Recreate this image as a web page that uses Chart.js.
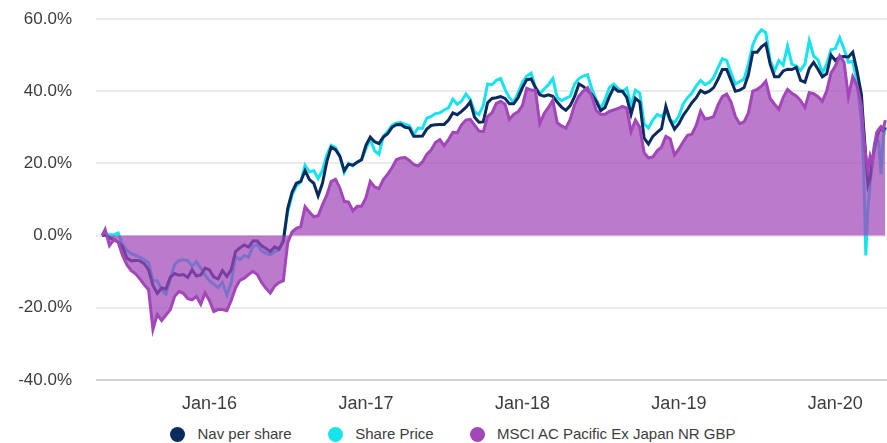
<!DOCTYPE html>
<html>
<head>
<meta charset="utf-8">
<title>Cumulative performance</title>
<script src="https://cdn.jsdelivr.net/npm/chart.js@4.4.0/dist/chart.umd.min.js"></script>
<style>
  html, body { margin: 0; padding: 0; background: #ffffff; }
  #wrap { position: relative; width: 887px; height: 443px; overflow: hidden; }
  #chartBox { position: absolute; left: 0; top: 0; width: 887px; height: 418px; }
  #legend {
    position: absolute; left: 170px; top: 425px; height: 18px;
    display: flex; align-items: center; white-space: nowrap;
    font-family: Arial, 'Liberation Sans', sans-serif; font-size: 15px; color: #3d3d3d;
  }
  #legend .item { display: flex; align-items: center; margin-right: 36px; line-height: 18px; }
  #legend .dot { width: 15px; height: 15px; border-radius: 50%; margin-right: 12.5px; }
</style>
</head>
<body>
<div id="wrap">
  <div id="chartBox"><canvas id="perfChart"></canvas></div>
  <div id="legend"></div>
</div>
<script>
// Observation dates (roughly every 10 days, denser around the March 2020 sell-off)
const dates = [
  '2015-04-24',
  '2015-05-01', '2015-05-11', '2015-05-21', '2015-06-01', '2015-06-11', '2015-06-21',
  '2015-07-01', '2015-07-11', '2015-07-21', '2015-08-01', '2015-08-11', '2015-08-21',
  '2015-09-01', '2015-09-11', '2015-09-21', '2015-10-01', '2015-10-11', '2015-10-21',
  '2015-11-01', '2015-11-11', '2015-11-21', '2015-12-01', '2015-12-11', '2015-12-21',
  '2016-01-01', '2016-01-11', '2016-01-21', '2016-02-01', '2016-02-11', '2016-02-21',
  '2016-03-01', '2016-03-11', '2016-03-21', '2016-04-01', '2016-04-11', '2016-04-21',
  '2016-05-01', '2016-05-11', '2016-05-21', '2016-06-01', '2016-06-11', '2016-06-21',
  '2016-07-01', '2016-07-11', '2016-07-21', '2016-08-01', '2016-08-11', '2016-08-21',
  '2016-09-01', '2016-09-11', '2016-09-21', '2016-10-01', '2016-10-11', '2016-10-21',
  '2016-11-01', '2016-11-11', '2016-11-21', '2016-12-01', '2016-12-11', '2016-12-21',
  '2017-01-01', '2017-01-11', '2017-01-21', '2017-02-01', '2017-02-11', '2017-02-21',
  '2017-03-01', '2017-03-11', '2017-03-21', '2017-04-01', '2017-04-11', '2017-04-21',
  '2017-05-01', '2017-05-11', '2017-05-21', '2017-06-01', '2017-06-11', '2017-06-21',
  '2017-07-01', '2017-07-11', '2017-07-21', '2017-08-01', '2017-08-11', '2017-08-21',
  '2017-09-01', '2017-09-11', '2017-09-21', '2017-10-01', '2017-10-11', '2017-10-21',
  '2017-11-01', '2017-11-11', '2017-11-21', '2017-12-01', '2017-12-11', '2017-12-21',
  '2018-01-01', '2018-01-11', '2018-01-21', '2018-02-01', '2018-02-11', '2018-02-21',
  '2018-03-01', '2018-03-11', '2018-03-21', '2018-04-01', '2018-04-11', '2018-04-21',
  '2018-05-01', '2018-05-11', '2018-05-21', '2018-06-01', '2018-06-11', '2018-06-21',
  '2018-07-01', '2018-07-11', '2018-07-21', '2018-08-01', '2018-08-11', '2018-08-21',
  '2018-09-01', '2018-09-11', '2018-09-21', '2018-10-01', '2018-10-11', '2018-10-21',
  '2018-11-01', '2018-11-11', '2018-11-21', '2018-12-01', '2018-12-11', '2018-12-21',
  '2019-01-01', '2019-01-11', '2019-01-21', '2019-02-01', '2019-02-11', '2019-02-21',
  '2019-03-01', '2019-03-11', '2019-03-21', '2019-04-01', '2019-04-11', '2019-04-21',
  '2019-05-01', '2019-05-11', '2019-05-21', '2019-06-01', '2019-06-11', '2019-06-21',
  '2019-07-01', '2019-07-11', '2019-07-21', '2019-08-01', '2019-08-11', '2019-08-21',
  '2019-09-01', '2019-09-11', '2019-09-21', '2019-10-01', '2019-10-11', '2019-10-21',
  '2019-11-01', '2019-11-11', '2019-11-21', '2019-12-01', '2019-12-11', '2019-12-21',
  '2020-01-01', '2020-01-11', '2020-01-21', '2020-02-01', '2020-02-11', '2020-02-21',
  '2020-03-01', '2020-03-06', '2020-03-11', '2020-03-16', '2020-03-21', '2020-03-26',
  '2020-04-01', '2020-04-06', '2020-04-11', '2020-04-16', '2020-04-21', '2020-04-26'
];

// Cumulative return, %
const navPerShare = [
  0,
  0.2, -0.6, -1.0, -1.8, -3.0, -6.2,
  -7.0, -6.8, -7.0, -7.8, -9.5, -13.8,
  -16.0, -14.5, -14.8, -11.5, -10.5, -11.0,
  -10.8, -11.6, -9.5, -11.2, -10.9, -9.0,
  -9.5, -11.5, -12.0, -9.7, -11.3, -9.5,
  -4.4, -3.4, -2.6, -3.2, -1.5, -1.5,
  -2.8, -3.6, -4.4, -3.1, -3.7, -1.6,
  7.5, 12.0, 14.5, 15.0, 18.0, 15.5,
  14.5, 11.0, 14.5, 20.5, 24.5, 23.8,
  22.0, 18.0, 19.8, 19.5, 20.3, 21.0,
  25.0, 27.3, 26.0, 25.5, 27.3, 28.2,
  30.0, 30.7, 30.8, 30.0, 29.8, 27.5,
  27.5, 27.6, 29.5, 30.5, 30.7, 30.8,
  30.8, 32.0, 34.0, 33.5, 34.4, 35.5,
  37.0, 32.8, 31.4, 31.5, 36.8, 38.0,
  38.2, 38.5, 38.0, 36.5, 36.5, 38.2,
  41.0, 43.2, 43.4, 41.0, 39.0, 38.6,
  39.0, 38.6, 37.0, 35.6, 34.7, 36.0,
  38.5, 42.0, 41.3, 40.2, 39.0, 37.2,
  34.6, 35.5, 38.5, 41.0, 40.0, 40.0,
  38.3, 33.6, 38.0, 37.0, 27.0, 25.4,
  27.5, 28.6, 29.6, 35.8, 32.0, 29.5,
  31.0, 33.3, 35.0, 36.8, 38.2, 40.2,
  39.5, 40.0, 41.0, 43.3, 46.0, 46.0,
  43.0, 40.0, 40.3, 41.0, 44.6, 50.8,
  50.8, 52.3, 53.2, 47.5, 44.0, 44.0,
  45.6, 46.1, 46.0, 46.6, 43.0, 42.5,
  46.3, 48.0, 46.1, 44.0, 44.8, 50.0,
  48.5, 49.5, 49.6, 49.5, 50.8, 45.5,
  39.0, 30.0, 22.0, 14.0, 16.0, 21.0,
  24.0, 27.0, 29.0, 29.5, 29.0, 30.0
];

const sharePrice = [
  0,
  0.5, 0.3, 0.2, 0.7, -2.5, -4.0,
  -5.0, -5.5, -6.0, -6.7, -7.5, -12.5,
  -12.5, -15.0, -16.2, -12.0, -8.0, -6.9,
  -6.7, -6.9, -8.5, -7.2, -9.0, -11.0,
  -12.5, -13.5, -14.4, -13.0, -16.5, -13.0,
  -5.8, -6.7, -5.5, -6.0, -3.0, -2.5,
  -4.2, -4.9, -5.3, -4.4, -4.0, -1.0,
  6.5, 11.2, 13.8, 14.8, 19.5, 17.6,
  18.0, 15.8, 18.0, 22.3, 25.0, 24.4,
  22.0, 17.5, 20.0, 19.3, 20.4, 21.1,
  24.0, 26.7, 23.5, 22.5, 27.5, 28.8,
  30.5, 31.2, 31.3, 30.8, 30.5, 28.0,
  29.8, 29.7, 32.5, 33.0, 33.8, 34.0,
  34.8, 35.4, 37.8, 36.4, 37.2, 39.2,
  37.8, 34.3, 33.5, 36.0, 42.0, 41.8,
  43.0, 43.5, 40.5, 38.2, 37.0, 39.5,
  42.5, 44.2, 45.0, 41.0, 39.3, 40.6,
  41.8, 43.5, 38.3, 37.4, 38.0, 38.6,
  42.0, 43.5, 44.2, 44.6, 40.5, 37.6,
  35.2, 37.6, 41.0, 42.0, 40.8, 39.8,
  40.8, 36.0, 40.3, 39.5, 31.0, 29.8,
  32.0, 33.5, 33.0, 34.5, 32.0, 31.3,
  33.1, 36.5, 38.2, 39.5, 41.5, 43.0,
  41.8, 42.4, 43.8, 46.5, 49.0, 48.5,
  45.0, 42.0, 42.7, 43.4, 47.5, 52.8,
  55.5, 57.0, 56.2, 48.5, 45.6, 48.5,
  47.2, 52.5, 47.5, 47.0, 45.8, 47.5,
  54.0, 49.8, 48.7, 45.0, 47.5, 51.5,
  51.8, 54.8, 51.7, 48.0, 48.3, 42.5,
  31.0, 19.0, -5.5, 8.0, 14.0, 21.0,
  25.5, 27.5, 25.5, 17.0, 27.0, 30.0
];

const msciPacific = [
  0,
  1.7, -2.8, -1.2, -1.8, -5.5, -8.1,
  -9.7, -10.6, -12.0, -13.6, -15.0, -26.0,
  -21.8, -23.5, -22.0, -20.5, -16.8, -15.5,
  -16.0, -17.5, -17.8, -16.8, -19.0, -15.9,
  -18.0, -21.0, -20.5, -20.5, -20.8, -18.0,
  -14.5, -12.4, -11.8, -10.8, -9.9, -10.8,
  -13.0, -14.6, -15.9, -14.0, -13.0, -12.5,
  -2.0, 1.0, 2.0, 2.5, 8.0, 6.5,
  5.2, 5.5, 8.5, 11.2, 15.0, 15.6,
  13.2, 9.5, 9.3, 6.9, 8.1, 8.1,
  10.5, 15.0, 13.5, 13.0, 15.5, 17.0,
  18.8, 21.0, 21.5, 21.6, 20.8, 19.7,
  19.3, 20.4, 22.5, 23.7, 25.8, 26.6,
  24.9, 26.6, 28.6, 28.5, 30.7, 32.0,
  32.2, 30.6, 29.0, 28.8, 33.0, 34.0,
  36.6, 37.2, 36.4, 32.2, 33.6, 34.3,
  36.0, 40.8, 40.3, 40.2, 31.0, 33.8,
  35.5, 37.5, 31.3, 30.4, 29.8, 32.2,
  36.2, 38.7, 40.0, 41.0, 38.5, 34.6,
  33.6, 33.6, 34.4, 34.8, 35.2, 35.8,
  35.3, 28.8, 32.0, 30.0, 23.0, 21.5,
  21.8, 23.5, 24.5, 27.5, 26.8, 22.3,
  24.0, 26.0, 27.8, 28.1, 30.6, 34.5,
  32.3, 32.5, 33.0, 36.2, 38.5, 39.2,
  37.0, 33.0, 31.0, 31.5, 34.0, 40.0,
  40.5, 41.4, 42.8, 38.0, 36.4, 35.0,
  38.3, 40.5, 39.4, 38.7, 37.4, 35.5,
  39.6, 39.3, 38.5, 37.2, 40.0, 45.0,
  47.0, 49.8, 48.0, 38.5, 44.0, 41.5,
  35.9, 27.5, 22.0, 18.5, 22.0, 20.0,
  25.0, 28.5, 29.5, 30.2, 29.4, 32.0
];

const seriesNames = ['Nav per share', 'Share Price', 'MSCI AC Pacific Ex Japan NR GBP'];
const seriesColors = ['#0b2b5e', '#17e3ee', '#a246ba'];

const xTickDates = ['2016-01-01', '2017-01-01', '2018-01-01', '2019-01-01', '2020-01-01'];
const xTickLabels = ['Jan-16', 'Jan-17', 'Jan-18', 'Jan-19', 'Jan-20'];
const yTickValues = [-40, -20, 0, 20, 40, 60];

// months since Jan 2015, used as the linear x value
function toMonths(s) {
  const [y, m, d] = s.split('-').map(Number);
  return (y - 2015) * 12 + (m - 1) + (d - 1) / 30;
}

function toPoints(values) {
  return values.map((v, i) => ({ x: toMonths(dates[i]), y: v }));
}

const xTickMonths = xTickDates.map(toMonths);

const ctx = document.getElementById('perfChart').getContext('2d');
const perfChart = new Chart(ctx, {
  type: 'line',
  data: {
    datasets: [{
      label: seriesNames[0],
      data: toPoints(navPerShare),
      borderColor: seriesColors[0],
      borderWidth: 3,
      pointRadius: 0,
      fill: false,
      order: 1
    }, {
      label: seriesNames[1],
      data: toPoints(sharePrice),
      borderColor: seriesColors[1],
      borderWidth: 3,
      pointRadius: 0,
      fill: false,
      order: 1
    }, {
      label: seriesNames[2],
      data: toPoints(msciPacific),
      borderColor: seriesColors[2],
      backgroundColor: 'rgba(162, 70, 186, 0.72)',
      borderWidth: 3,
      pointRadius: 0,
      fill: 'origin',
      order: 0
    }]
  },
  options: {
    responsive: true,
    maintainAspectRatio: false,
    animation: false,
    layout: { padding: { top: 19, right: 0, bottom: 0, left: 0 } },
    plugins: {
      legend: { display: false },
      tooltip: { enabled: false }
    },
    scales: {
      x: {
        type: 'linear',
        min: 3.3,
        max: 63.96,
        grid: { display: false, drawTicks: false },
        border: { display: false },
        afterBuildTicks: (scale) => {
          scale.ticks = xTickMonths.map(v => ({ value: v }));
        },
        afterFit: (scale) => { scale.height = 38; },
        ticks: {
          autoSkip: false,
          maxRotation: 0,
          padding: 13,
          color: '#3d3d3d',
          font: { family: "Arial, 'Liberation Sans', sans-serif", size: 18 },
          callback: (value, index) => xTickLabels[index]
        }
      },
      y: {
        min: -40,
        max: 60,
        afterBuildTicks: (scale) => {
          scale.ticks = yTickValues.map(v => ({ value: v }));
        },
        afterFit: (scale) => {
          // keep the label gap from pushing the plot area down
          scale.width = 96;
          scale.paddingTop = 0;
          scale.paddingBottom = 0;
        },
        grid: {
          drawTicks: false,
          lineWidth: 2,
          color: (c) => (c.tick && c.tick.value === -40 ? '#d2d2d2' : '#ebebeb')
        },
        border: { display: false },
        ticks: {
          padding: 24,
          color: '#3d3d3d',
          font: { family: "Arial, 'Liberation Sans', sans-serif", size: 17 },
          callback: (value) => value.toFixed(1) + '%'
        }
      }
    }
  }
});

// Legend in the series order of the original
const legendEl = document.getElementById('legend');
seriesNames.forEach((name, i) => {
  const item = document.createElement('span');
  item.className = 'item';
  const dot = document.createElement('span');
  dot.className = 'dot';
  dot.style.background = seriesColors[i];
  item.appendChild(dot);
  item.appendChild(document.createTextNode(name));
  legendEl.appendChild(item);
});
</script>
</body>
</html>
